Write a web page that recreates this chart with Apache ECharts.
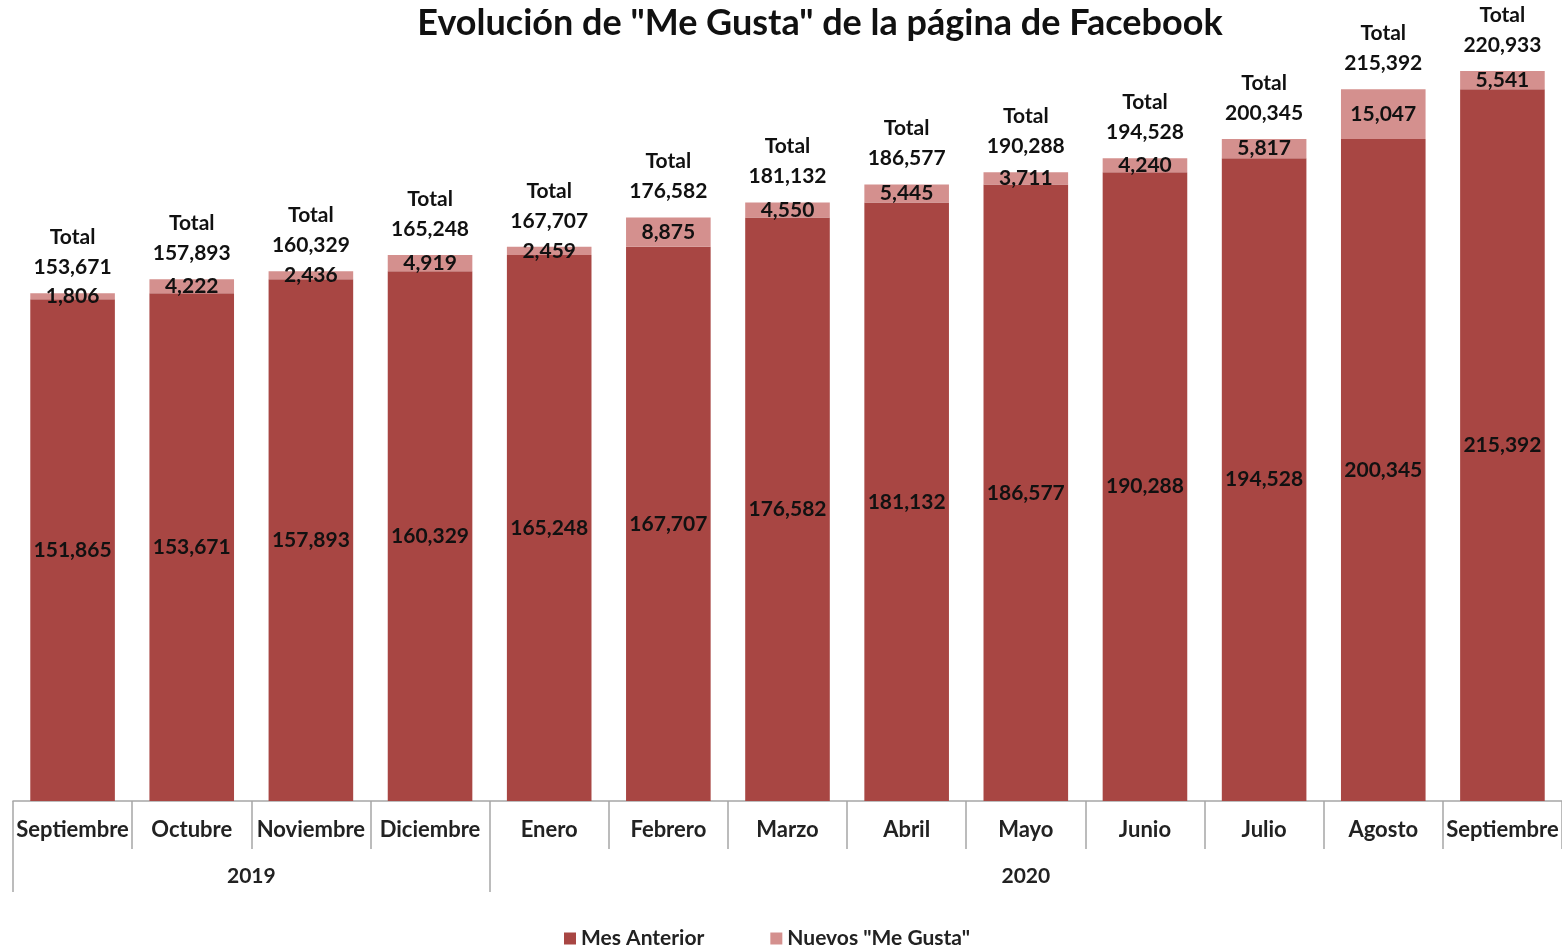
<!DOCTYPE html>
<html lang="es">
  <head>
    <meta charset="UTF-8" />
    <title>Me Gusta Facebook</title>
    <script src="https://cdn.jsdelivr.net/npm/echarts@6/dist/echarts.min.js"></script>
    <style>
      html, body { margin: 0; padding: 0; background: #ffffff; }
      #chart { width: 1562px; height: 946px; }
    </style>
  </head>
  <body>
    <div id="chart"></div>
    <script>
      // datos
      var months = ['Septiembre', 'Octubre', 'Noviembre', 'Diciembre', 'Enero', 'Febrero', 'Marzo', 'Abril', 'Mayo', 'Junio', 'Julio', 'Agosto', 'Septiembre'];
      var years = ['2019', '2020'];
      var monthsPerYear = [4, 9];
      var mesAnterior = [151865, 153671, 157893, 160329, 165248, 167707, 176582, 181132, 186577, 190288, 194528, 200345, 215392];
      var nuevos = [1806, 4222, 2436, 4919, 2459, 8875, 4550, 5445, 3711, 4240, 5817, 15047, 5541];

      var FONT = 'Lato';
      var darkColor = '#A84643';
      var lightColor = '#D4908E';
      var axisColor = '#A6A6A6';

      function fmt(v) {
        return v.toString().replace(/\B(?=(\d{3})+(?!\d))/g, ',');
      }

      var totals = mesAnterior.map(function (v, i) { return v + nuevos[i]; });

      // posiciones de los años sobre el eje 0..n (sin la raya final)
      var yearTicks = [0];
      var yearCenters = [];
      var acc = 0;
      for (var i = 0; i < monthsPerYear.length; i += 1) {
        yearCenters.push(acc + monthsPerYear[i] / 2);
        acc += monthsPerYear[i];
        if (acc < months.length) yearTicks.push(acc);
      }

      var chart = echarts.init(document.getElementById('chart'));

      var labelStyle = {
        fontFamily: FONT,
        fontSize: 21,
        fontWeight: 'bold',
        color: '#111'
      };

      var option = {
        animation: false,
        title: {
          text: 'Evolución de "Me Gusta" de la página de Facebook',
          left: 815,
          textAlign: 'center',
          top: 0,
          textStyle: { fontFamily: FONT, fontSize: 36, fontWeight: 'bold', color: '#111' }
        },
        legend: {
          data: ['Mes Anterior', 'Nuevos "Me Gusta"'],
          left: 559,
          top: 923,
          icon: 'rect',
          itemWidth: 12,
          itemHeight: 12,
          itemGap: 66,
          textStyle: { fontFamily: FONT, fontSize: 21, fontWeight: 'bold', color: '#222' }
        },
        grid: { left: 13, right: -6, top: 71, bottom: 145 },
        xAxis: [
          {
            type: 'category',
            data: months,
            axisLine: { lineStyle: { color: axisColor, width: 1.5 } },
            axisTick: { show: true, interval: 0, length: 48, lineStyle: { color: axisColor, width: 1.5 } },
            axisLabel: { interval: 0, margin: 18, fontFamily: FONT, fontSize: 22, fontWeight: 'bold', color: '#222' }
          },
          {
            type: 'value',
            position: 'bottom',
            offset: 48,
            min: 0,
            max: months.length,
            splitLine: { show: false },
            axisLine: { show: false },
            axisTick: { show: true, customValues: yearTicks, length: 43, lineStyle: { color: axisColor, width: 1.5 } },
            axisLabel: {
              customValues: yearCenters,
              margin: 17,
              fontFamily: FONT,
              fontSize: 21,
              fontWeight: 'bold',
              color: '#222',
              formatter: function (v) {
                var idx = yearCenters.indexOf(v);
                return idx >= 0 ? years[idx] : '';
              }
            }
          }
        ],
        yAxis: { type: 'value', show: false, min: 0, max: 'dataMax', splitLine: { show: false } },
        series: [
          {
            name: 'Mes Anterior',
            type: 'bar',
            stack: 'total',
            barWidth: '71%',
            itemStyle: { color: darkColor },
            label: Object.assign({
              show: true,
              position: 'inside',
              formatter: function (p) { return fmt(p.value); }
            }, labelStyle),
            data: mesAnterior
          },
          {
            name: 'Nuevos "Me Gusta"',
            type: 'bar',
            stack: 'total',
            barWidth: '71%',
            itemStyle: { color: lightColor },
            label: Object.assign({
              show: true,
              position: 'inside',
              formatter: function (p) { return fmt(p.value); }
            }, labelStyle),
            data: nuevos
          },
          {
            name: 'Total',
            type: 'line',
            data: totals,
            symbol: 'circle',
            symbolSize: 2,
            showSymbol: true,
            itemStyle: { color: 'transparent', borderWidth: 0 },
            lineStyle: { color: 'transparent', width: 0 },
            z: 5,
            label: Object.assign({
              show: true,
              position: 'top',
              distance: 10,
              lineHeight: 30,
              formatter: function (p) { return 'Total\n' + fmt(p.value); }
            }, labelStyle)
          }
        ]
      };

      chart.setOption(option);
    </script>
  </body>
</html>
